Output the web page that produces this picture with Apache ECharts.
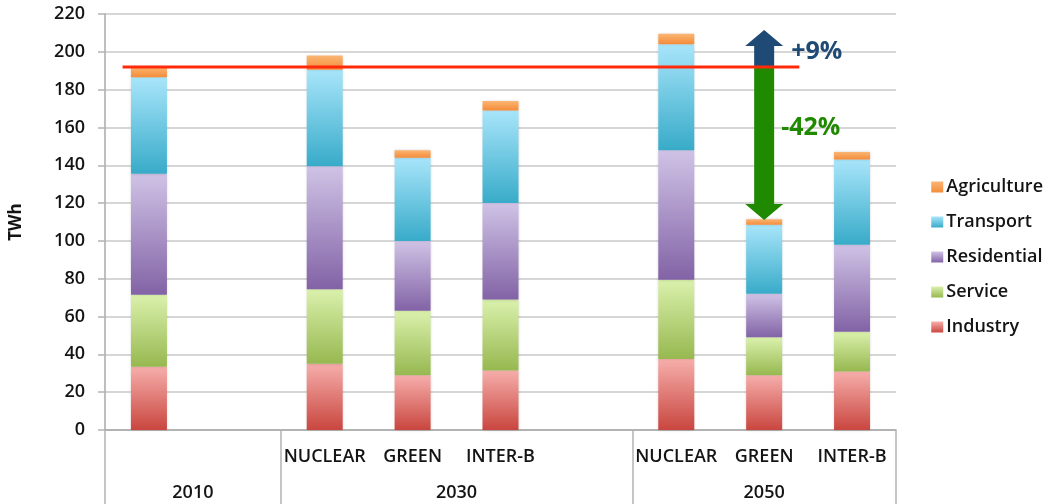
<!DOCTYPE html>
<html lang="en">
<head>
    <meta charset="UTF-8">
    <title>TWh by sector</title>
    <script src="https://cdn.jsdelivr.net/npm/echarts@6/dist/echarts.min.js"></script>
    <style>
        html, body { margin: 0; padding: 0; background: #fff; }
        #chart { width: 1053px; height: 504px; }
    </style>
</head>
<body>
<div id="chart"></div>
<script>
    // columns of the chart (two empty spacer columns)
    var categories = ['2010', 'gap-2010', 'NUCLEAR-2030', 'GREEN-2030', 'INTER-B-2030', 'gap-2030', 'NUCLEAR-2050', 'GREEN-2050', 'INTER-B-2050'];
    var scenarioLabels = ['', '', 'NUCLEAR', 'GREEN', 'INTER-B', '', 'NUCLEAR', 'GREEN', 'INTER-B'];

    // TWh per sector
    var industry    = [33.5, null, 35,   29, 31.5, null, 37.5, 29,   31];
    var service     = [38,   null, 39.5, 34, 37.5, null, 42,   20,   21];
    var residential = [64,   null, 65,   37, 51,   null, 68.5, 23,   46];
    var transport   = [51,   null, 51,   44, 49,   null, 56,   36.5, 45];
    var agriculture = [5.5,  null, 7.5,  4,  5,    null, 5.5,  3,    4];

    var yTicks = [0, 20, 40, 60, 80, 100, 120, 140, 160, 180, 200, 220];

    // year groups on a half-column scale (0..18)
    var yearLabels = ['2010', '2030', '2050'];
    var yearLabelAt = [2, 8, 15];
    var yearBounds = [0, 4, 12, 18];

    // 2010 reference level (red line), half-column span
    var referenceLevel = 192;
    var referenceSpan = [0.4, 15.8];

    // arrows on 2050 GREEN: [column, from, to, label value]
    var arrowData = [[7, 192, 211.5, 200], [7, 192, 111, 160]];
    var arrowLabels = ['+9%', '-42%'];

    function grad(top, bottom) {
        return new echarts.graphic.LinearGradient(0, 0, 0, 1, [
            { offset: 0, color: top },
            { offset: 1, color: bottom }
        ]);
    }

    var arrowStyles = [
        { color: '#1f4a75', dx: 27 },
        { color: '#1f8a00', dx: 17 }
    ];

    function barSeries(name, data, top, bottom) {
        return {
            name: name,
            type: 'bar',
            stack: 'total',
            barWidth: 36,
            data: data,
            itemStyle: {
                color: grad(top, bottom),
                shadowColor: 'rgba(0,0,0,0.18)',
                shadowBlur: 3
            }
        };
    }

    var txt = '#141414';

    var option = {
        animation: false,
        textStyle: { fontFamily: 'Open Sans' },
        grid: { left: 105, right: 157, top: 14, bottom: 74 },
        legend: {
            orient: 'vertical',
            right: 5,
            top: 172,
            itemWidth: 12,
            itemHeight: 11,
            itemGap: 15,
            icon: 'rect',
            data: ['Agriculture', 'Transport', 'Residential', 'Service', 'Industry'],
            textStyle: { fontSize: 18, color: txt, fontWeight: 600, lineHeight: 20, padding: [0, 0, 0, -2] }
        },
        xAxis: [{
            type: 'category',
            data: categories,
            axisLine: { lineStyle: { color: '#a8a8a8', width: 1.5 } },
            axisTick: { length: 37, lineStyle: { color: '#b4b4b4', width: 1.5 } },
            axisLabel: {
                interval: 0,
                margin: 18,
                fontSize: 18,
                fontWeight: 600,
                color: txt,
                formatter: function (v, i) { return scenarioLabels[i]; }
            }
        }, {
            type: 'value',
            position: 'bottom',
            min: 0,
            max: 18,
            axisLine: { show: false },
            splitLine: { show: false },
            axisTick: {
                show: true,
                length: 74,
                customValues: yearBounds,
                lineStyle: { color: '#b4b4b4', width: 1.5 }
            },
            axisLabel: {
                margin: 54,
                fontSize: 18,
                fontWeight: 600,
                color: txt,
                customValues: yearLabelAt,
                formatter: function (v) { return yearLabels[yearLabelAt.indexOf(v)]; }
            }
        }],
        yAxis: {
            type: 'value',
            min: 0,
            max: 220,
            interval: 20,
            name: 'TWh',
            nameLocation: 'middle',
            nameRotate: 90,
            nameGap: 80,
            nameTextStyle: { fontSize: 17, fontWeight: 'bold', color: txt },
            axisLine: { show: true, lineStyle: { color: '#a8a8a8', width: 1.5 } },
            axisTick: { show: true, length: 7, lineStyle: { color: '#b4b4b4', width: 1.5 } },
            axisLabel: {
                margin: 20,
                fontSize: 18,
                fontWeight: 600,
                color: txt,
                formatter: function (v) { return yTicks.indexOf(v) >= 0 ? String(v) : ''; }
            },
            splitLine: { lineStyle: { color: '#c8c8c8', width: 1.5 } }
        },
        series: [
            barSeries('Industry', industry, '#f6aeab', '#c9463f'),
            barSeries('Service', service, '#daf1ac', '#97b850'),
            barSeries('Residential', residential, '#d0c3e6', '#8263a6'),
            barSeries('Transport', transport, '#a8e5fa', '#38abc9'),
            barSeries('Agriculture', agriculture, '#fbb573', '#f48c3a'),
            {
                type: 'custom',
                z: 5,
                data: arrowData,
                renderItem: function (params, api) {
                    var i = params.dataIndex;
                    var st = arrowStyles[i];
                    var x = api.coord([api.value(0), api.value(1)])[0];
                    var y0 = api.coord([api.value(0), api.value(1)])[1];
                    var y1 = api.coord([api.value(0), api.value(2)])[1];
                    var ly = api.coord([api.value(0), api.value(3)])[1];
                    var dir = y1 > y0 ? 1 : -1;
                    var head = 16, hw = 19, sw = 10;
                    var yb = y1 - dir * head;
                    return {
                        type: 'group',
                        children: [{
                            type: 'polygon',
                            shape: {
                                points: [[x - sw, y0], [x - sw, yb], [x - hw, yb], [x, y1],
                                         [x + hw, yb], [x + sw, yb], [x + sw, y0]]
                            },
                            style: { fill: st.color }
                        }, {
                            type: 'text',
                            x: x + st.dx,
                            y: ly,
                            style: {
                                text: arrowLabels[i],
                                fill: st.color,
                                font: 'bold 25px "Open Sans"',
                                verticalAlign: 'middle',
                                align: 'left'
                            }
                        }]
                    };
                }
            },
            {
                type: 'line',
                xAxisIndex: 1,
                z: 10,
                symbol: 'none',
                data: [[referenceSpan[0], referenceLevel], [referenceSpan[1], referenceLevel]],
                lineStyle: { color: '#ff2a0a', width: 3 }
            }
        ]
    };

    var myChart = echarts.init(document.getElementById('chart'));
    myChart.setOption(option);
</script>
</body>
</html>
